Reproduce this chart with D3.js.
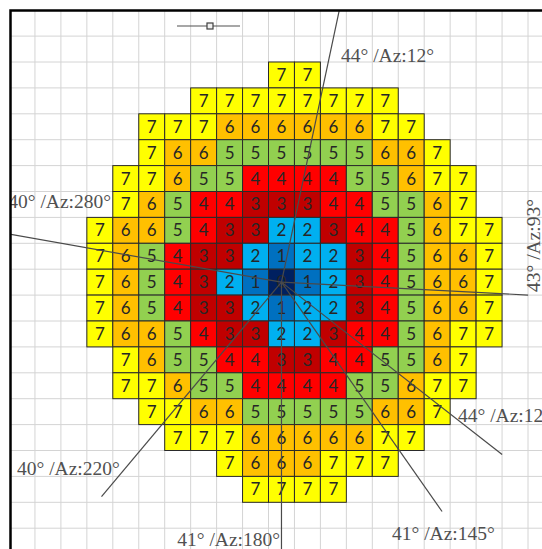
<!DOCTYPE html>
<html>
<head>
<meta charset="utf-8">
<script src="https://cdn.jsdelivr.net/npm/d3@7"></script>
<style>
  html, body { margin: 0; padding: 0; background: #fff; }
  svg { display: block; }
</style>
</head>
<body>
<div id="chart"></div>
<script>
// Coverage levels per grid row; "." marks an empty cell
const levelRows = [
  ".......77.......",
  "....77777777....",
  "..77766666677...",
  "..766555555667..",
  ".77655444455677.",
  ".76544333445567.",
  "7665433223445677",
  "7654332122345667",
  "7654321012345667",
  "7654332122345667",
  "7665433223445677",
  ".76554433445567.",
  ".77655444455677.",
  "..776655555667..",
  "...7776666677...",
  ".....7666777....",
  "......7777......"
];

// Level -> fill colour
const levels = [0, 1, 2, 3, 4, 5, 6, 7];
const levelColors = ["#002060", "#0070C0", "#00B0F0", "#C00000", "#FF0000", "#92D050", "#FFC000", "#FFFF00"];

// Sight lines: elevation and azimuth (degrees)
const elevations = [44, 40, 43, 44, 41, 41, 40];
const azimuths   = [12, 280, 93, 128, 145, 180, 220];

const W = 542, H = 549;
const cellW = 25.95, cellH = 25.9;
const gx0 = 9, gy0 = 10.2;

const svg = d3.select("#chart").append("svg")
  .attr("width", W).attr("height", H);

// Grid coordinates: columns -3..18, rows -2..19 (data occupies 0..15 / 0..16)
const x = d3.scaleLinear().domain([-3, 18]).range([gx0, gx0 + 21 * cellW]);
const y = d3.scaleLinear().domain([-2, 19]).range([gy0, gy0 + 21 * cellH]);
const color = d3.scaleOrdinal().domain(levels).range(levelColors);

svg.append("defs").append("clipPath").attr("id", "plot")
  .append("rect").attr("x", 11).attr("y", 11).attr("width", W).attr("height", H);

const plot = svg.append("g").attr("clip-path", "url(#plot)");

// Background grid
const gridCols = d3.range(-3, 19);
const gridRows = d3.range(-2, 20);
plot.append("g").selectAll("line.v").data(gridCols).join("line")
  .attr("x1", d => x(d)).attr("x2", d => x(d))
  .attr("y1", 0).attr("y2", H)
  .attr("stroke", "#d4d4d4").attr("stroke-width", 1);
plot.append("g").selectAll("line.h").data(gridRows).join("line")
  .attr("y1", d => y(d)).attr("y2", d => y(d))
  .attr("x1", 0).attr("x2", W)
  .attr("stroke", "#d4d4d4").attr("stroke-width", 1);

// Cells
const cells = [];
levelRows.forEach((row, r) => {
  row.split("").forEach((ch, c) => {
    if (ch !== ".") cells.push({ r, c, v: +ch });
  });
});

const cellG = plot.append("g");
cellG.selectAll("rect").data(cells).join("rect")
  .attr("x", d => x(d.c)).attr("y", d => y(d.r))
  .attr("width", d => x(d.c + 1) - x(d.c))
  .attr("height", d => y(d.r + 1) - y(d.r))
  .attr("fill", d => color(d.v))
  .attr("stroke", "#2a2a2a").attr("stroke-width", 1);

cellG.selectAll("text").data(cells).join("text")
  .attr("x", d => (x(d.c) + x(d.c + 1)) / 2)
  .attr("y", d => (y(d.r) + y(d.r + 1)) / 2 + 6)
  .attr("text-anchor", "middle")
  .attr("font-family", "Lato, 'Noto Sans', sans-serif")
  .attr("font-size", 17)
  .attr("fill", "#262626")
  .text(d => d.v);

// Sight lines from the centre cell
const cx = (x(7) + x(8)) / 2, cy = (y(8) + y(9)) / 2;
const sights = azimuths.map((az, i) => ({ az, el: elevations[i] }));
const reach = { 93: 247 };
const R = 280;
const rad = a => a * Math.PI / 180;

plot.append("g").selectAll("line").data(sights).join("line")
  .attr("x1", cx).attr("y1", cy)
  .attr("x2", d => cx + Math.sin(rad(d.az)) * (reach[d.az] || R))
  .attr("y2", d => cy - Math.cos(rad(d.az)) * (reach[d.az] || R))
  .attr("stroke", "#4a4a4a").attr("stroke-width", 1.2);

// Label placement for each azimuth
const labelPos = {
  12:  { x: 341, y: 62,  anchor: "start" },
  280: { x: 111, y: 208, anchor: "end" },
  93:  { x: 540, y: 292, anchor: "start", rotate: -90 },
  128: { x: 458, y: 422, anchor: "start" },
  145: { x: 392, y: 540, anchor: "start" },
  180: { x: 280, y: 546, anchor: "end" },
  220: { x: 17,  y: 475, anchor: "start" }
};

plot.append("g").selectAll("text").data(sights).join("text")
  .attr("transform", d => {
    const p = labelPos[d.az];
    return `translate(${p.x},${p.y})` + (p.rotate ? ` rotate(${p.rotate})` : "");
  })
  .attr("text-anchor", d => labelPos[d.az].anchor)
  .attr("font-family", "'Liberation Serif', 'Times New Roman', serif")
  .attr("font-size", 19.5)
  .attr("fill", "#505050")
  .text(d => `${d.el}° /Az:${d.az}°`);

// Small handle marker at the top
const handle = plot.append("g");
handle.append("line")
  .attr("x1", 177).attr("x2", 240).attr("y1", 26).attr("y2", 26)
  .attr("stroke", "#505050").attr("stroke-width", 1.2);
handle.append("rect")
  .attr("x", 207).attr("y", 23).attr("width", 6).attr("height", 6)
  .attr("fill", "#f0f0f0").attr("stroke", "#404040").attr("stroke-width", 1.2);

// Frame
svg.append("path")
  .attr("d", `M10.5,${H} V10.5 H${W}`)
  .attr("fill", "none").attr("stroke", "#000").attr("stroke-width", 2.5);
</script>
</body>
</html>
